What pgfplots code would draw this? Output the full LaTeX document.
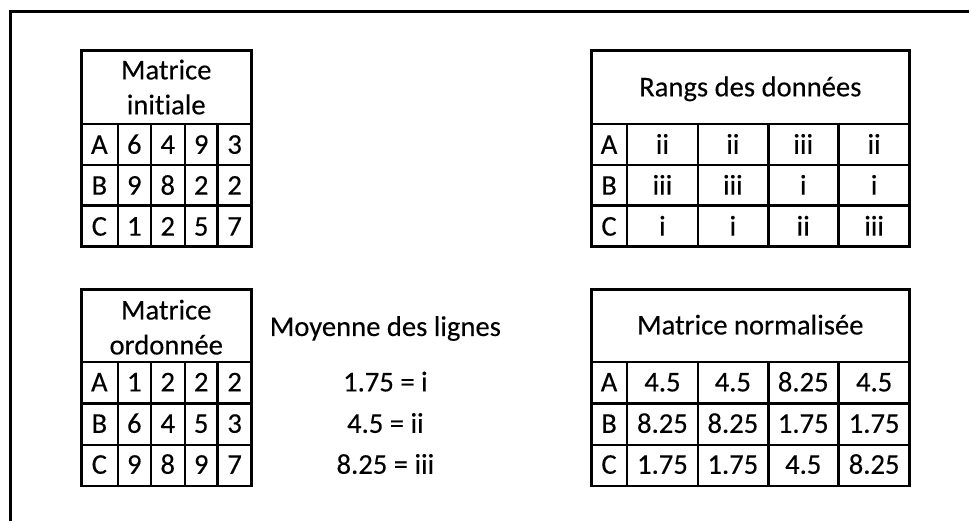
\documentclass[border=0pt]{standalone}
\usepackage{fontspec}
\setmainfont{Carlito}[Ligatures=NoCommon, UprightFeatures={FakeBold=0.25}]
\usepackage{pgfplots}
\pgfplotsset{compat=1.18}
\usepackage{pgfplotstable}

\pgfplotstableread{
x y label
166.5 79.5 Matrice
166.5 114.5 initiale
99.5 154 A
134.5 154 6
168 154 4
201.5 154 9
235 154 3
99.5 195 B
134.5 195 9
168 195 8
201.5 195 2
235 195 2
99.5 236 C
134.5 236 1
168 236 2
201.5 236 5
235 236 7
}\tabinit

\pgfplotstableread{
x y label
751.5 96.5 {Rangs des données}
610 154 A
663.5 154 ii
734 154 ii
804.5 154 iii
875.5 154 ii
610 195 B
663.5 195 iii
734 195 iii
804.5 195 i
875.5 195 i
610 236 C
663.5 236 i
734 236 i
804.5 236 ii
875.5 236 iii
}\tabrang

\pgfplotstableread{
x y label
166.5 320 Matrice
166.5 355 ordonnée
99.5 392 A
134.5 392 1
168 392 2
201.5 392 2
235 392 2
99.5 433.5 B
134.5 433.5 6
168 433.5 4
201.5 433.5 5
235 433.5 3
99.5 474.5 C
134.5 474.5 9
168 474.5 8
201.5 474.5 9
235 474.5 7
}\tabord

\pgfplotstableread{
x y label
386 336.5 {Moyenne des lignes}
386 392 {1.75 = i}
386 433.5 {4.5 = ii}
386 474.5 {8.25 = iii}
}\tabmoy

\pgfplotstableread{
x y label
751.5 335 {Matrice normalisée}
610 392 A
663.5 392 4.5
734 392 4.5
804.5 392 8.25
875.5 392 4.5
610 433.5 B
663.5 433.5 8.25
734 433.5 8.25
804.5 433.5 1.75
875.5 433.5 1.75
610 474.5 C
663.5 474.5 1.75
734 474.5 1.75
804.5 474.5 4.5
875.5 474.5 8.25
}\tabnorm

% grid of one table: x0 x1 ya yb yc yd ye c1 c2 c3 c4
\newcommand\tgrid[9]{%
  \draw (axis cs:#1,#3) rectangle (axis cs:#2,#7);
  \draw (axis cs:#1,#4) -- (axis cs:#2,#4);
  \draw (axis cs:#1,#5) -- (axis cs:#2,#5);
  \draw (axis cs:#1,#6) -- (axis cs:#2,#6);
  \draw (axis cs:#8,#4) -- (axis cs:#8,#7);
  \draw (axis cs:#9,#4) -- (axis cs:#9,#7);
  \tgridb{#4}{#7}}
\newcommand\tgridb[4]{%
  \draw (axis cs:#3,#1) -- (axis cs:#3,#2);
  \draw (axis cs:#4,#1) -- (axis cs:#4,#2);}

\begin{document}
\begin{tikzpicture}
\begin{axis}[
  scale only axis, width=728.25pt, height=391.5pt,
  xmin=0, xmax=971, ymin=0, ymax=522, y dir=reverse,
  hide axis, clip=false,
  every node near coord/.append style={anchor=base, inner sep=0pt, text=black,
     font=\fontsize{21.5}{25}\selectfont},
]
\path (axis cs:0,0) rectangle (axis cs:971,522);
% outer frame
\draw[line width=2.3pt, line cap=butt] (axis cs:10.5,522) -- (axis cs:10.5,11.5) -- (axis cs:971,11.5);
% table grids
\begin{scope}[line width=1.8pt]
\tgrid{81.5}{252}{50.5}{124}{165}{206}{247}{118}{151}{185}{218}
\tgrid{81.5}{252}{290}{362.5}{404}{445.5}{487}{118}{151}{185}{218}
\tgrid{592.5}{911}{50.5}{124}{165}{206}{247}{628}{699}{769.5}{840}
\tgrid{592.5}{911}{290}{362.5}{404}{445.5}{487}{628}{699}{769.5}{840}
\end{scope}
\addplot[draw=none, nodes near coords, point meta=explicit symbolic] table[x=x, y=y, meta=label] {\tabinit};
\addplot[draw=none, nodes near coords, point meta=explicit symbolic] table[x=x, y=y, meta=label] {\tabrang};
\addplot[draw=none, nodes near coords, point meta=explicit symbolic] table[x=x, y=y, meta=label] {\tabord};
\addplot[draw=none, nodes near coords, point meta=explicit symbolic] table[x=x, y=y, meta=label] {\tabmoy};
\addplot[draw=none, nodes near coords, point meta=explicit symbolic] table[x=x, y=y, meta=label] {\tabnorm};
\end{axis}
\end{tikzpicture}
\end{document}
